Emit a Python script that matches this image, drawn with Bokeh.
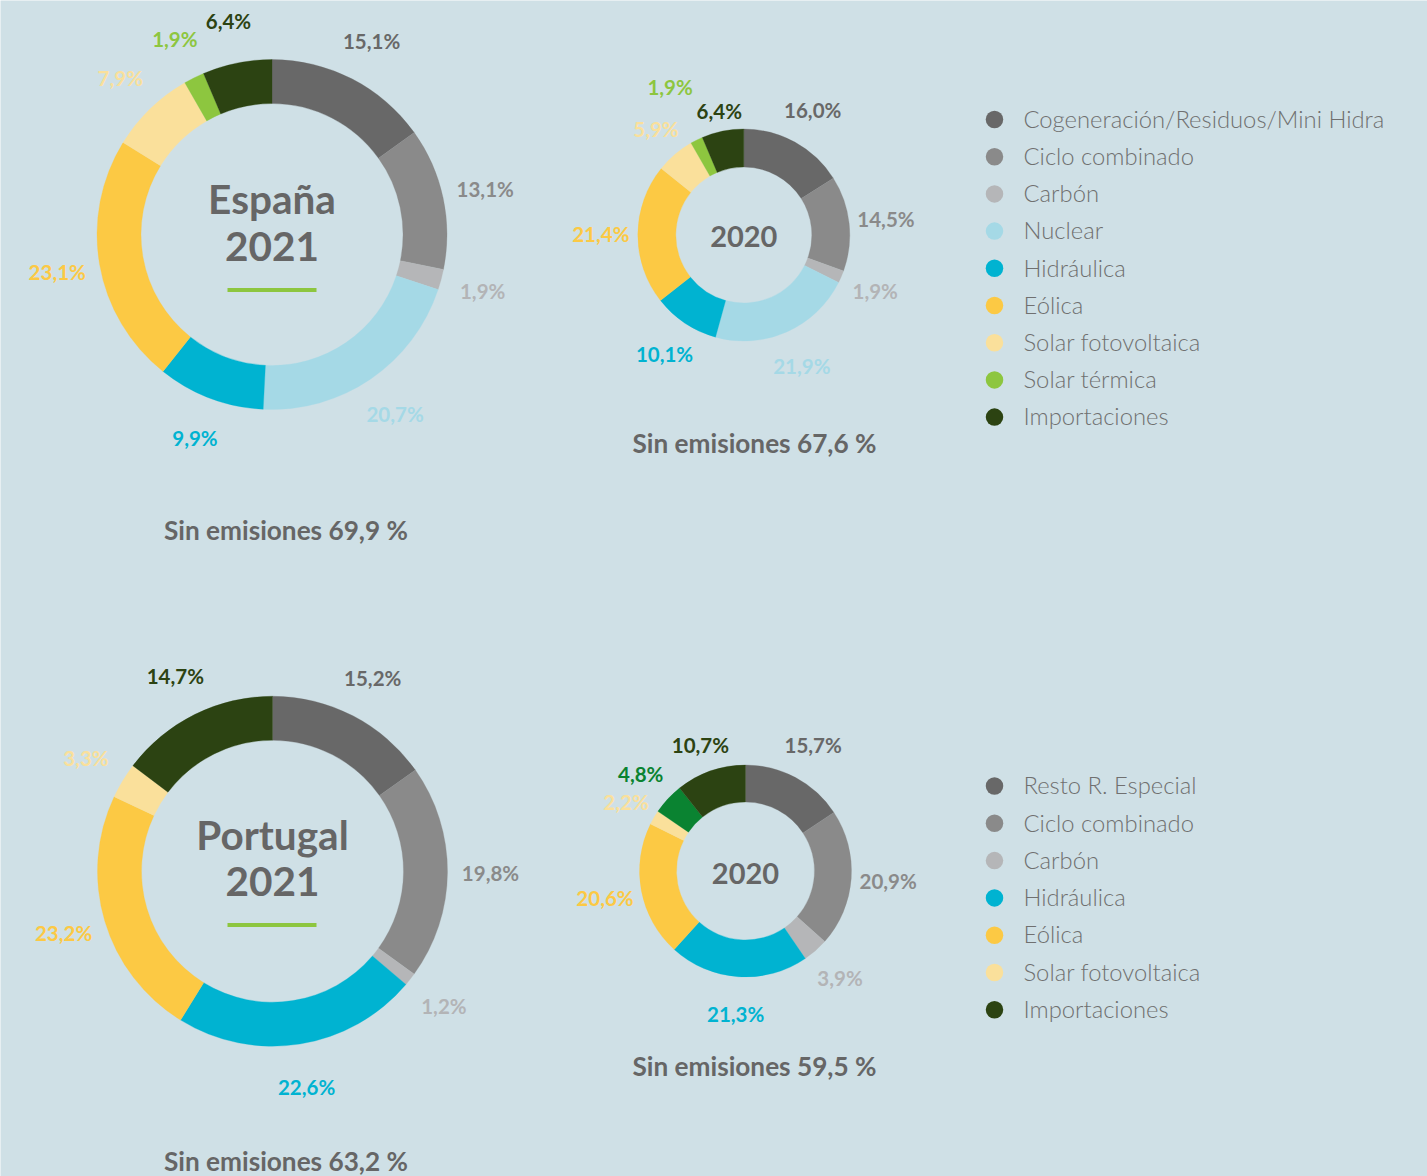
import math
from bokeh.plotting import figure
from bokeh.models import ColumnDataSource, Range1d
from bokeh.core.properties import value
from bokeh.embed import file_html
from bokeh.resources import INLINE

BG = "#cfe0e6"
FONT = "Lato"
LIGHT_FONT = "'Lato Light', Lato"

# ---------------- data ----------------
es_categories = ["Cogeneración/Residuos/Mini Hidra", "Ciclo combinado", "Carbón", "Nuclear",
                 "Hidráulica", "Eólica", "Solar fotovoltaica", "Solar térmica", "Importaciones"]
es_2021 = [15.1, 13.1, 1.9, 20.7, 9.9, 23.1, 7.9, 1.9, 6.4]
es_2020 = [16.0, 14.5, 1.9, 21.9, 10.1, 21.4, 5.9, 1.9, 6.4]

pt_categories = ["Resto R. Especial", "Ciclo combinado", "Carbón", "Hidráulica",
                 "Eólica", "Solar fotovoltaica", "Importaciones"]
pt_2021 = [15.2, 19.8, 1.2, 22.6, 23.2, 3.3, 14.7]
pt_2020_categories = ["Resto R. Especial", "Ciclo combinado", "Carbón", "Hidráulica",
                      "Eólica", "Solar fotovoltaica", "Otras", "Importaciones"]
pt_2020 = [15.7, 20.9, 3.9, 21.3, 20.6, 2.2, 4.8, 10.7]

sin_emisiones = {"es2021": "69,9", "es2020": "67,6", "pt2021": "63,2", "pt2020": "59,5"}

# ---------------- styles ----------------
COLORS = {
    "Cogeneración/Residuos/Mini Hidra": "#686868",
    "Resto R. Especial": "#686868",
    "Ciclo combinado": "#8a8a8a",
    "Carbón": "#b5b6b8",
    "Nuclear": "#a5d9e6",
    "Hidráulica": "#00b3d1",
    "Eólica": "#fcc944",
    "Solar fotovoltaica": "#fae09b",
    "Solar térmica": "#8dc63f",
    "Otras": "#0a8331",
    "Importaciones": "#2c4312",
}
LABEL_COLORS = dict(COLORS)
LABEL_COLORS["Carbón"] = "#b3b4b6"

W, H = 1427, 1176
p = figure(width=W, height=H, x_range=Range1d(0, W), y_range=Range1d(-H, 0),
           x_axis_type=None, y_axis_type=None, toolbar_location=None, output_backend="svg",
           min_border=0, background_fill_color=BG, border_fill_color=BG,
           outline_line_color=None)


def fmt(v):
    return f"{v:.1f}".replace(".", ",") + "%"


def donut(cats, vals, cx, cy, r_in, r_out, r_lab, nudges):
    total = sum(vals)
    starts, ends, cols = [], [], []
    lx, ly, lt, lc = [], [], [], []
    cum = 0.0
    for i, (c, v) in enumerate(zip(cats, vals)):
        c0 = cum / total
        cum += v
        c1 = cum / total
        starts.append(math.radians(90 - 360 * c1))
        ends.append(math.radians(90 - 360 * c0))
        cols.append(COLORS[c])
        th = math.radians(360 * (c0 + c1) / 2)
        dx, dy = nudges.get(i, (0, 0))
        lx.append(cx + r_lab * math.sin(th) + dx)
        ly.append(-(cy - r_lab * math.cos(th) + dy))
        lt.append(fmt(v))
        lc.append(LABEL_COLORS[c])
    src = ColumnDataSource(dict(x=[cx] * len(vals), y=[-cy] * len(vals), s=starts, e=ends, c=cols))
    p.annular_wedge(x="x", y="y", inner_radius=r_in, outer_radius=r_out, start_angle="s",
                    end_angle="e", fill_color="c", line_color="c",
                    line_width=0.3, source=src)
    lsrc = ColumnDataSource(dict(x=lx, y=ly, t=lt, c=lc))
    p.text(x="x", y="y", text="t", text_color="c", source=lsrc, text_font=value(FONT),
           text_font_size="20.5px", text_font_style="bold", text_align="center",
           text_baseline="middle")


# España 2021
donut(es_categories, es_2021, 271.5, 234, 131, 175, 218, {})
# España 2020
donut(es_categories, es_2020, 743.3, 234.5, 68, 106, 143,
      {6: (5, 3), 7: (-10, -20), 8: (4, 16)})
# Portugal 2021
donut(pt_categories, pt_2021, 272, 870.7, 131, 175, 218, {})
# Portugal 2020
donut(pt_2020_categories, pt_2020, 745, 870.5, 69, 106, 143,
      {5: (4, 3), 7: (2, 9)})

# centre titles
p.text(x=[271.5, 271.5, 272, 272], y=[-198, -246, -834, -881],
       text=["España", "2021", "Portugal", "2021"], text_color="#666666",
       text_font=value(FONT), text_font_size="40.5px", text_font_style="bold",
       text_align="center", text_baseline="middle")
p.segment(x0=[227, 227], y0=[-289.5, -924.5], x1=[316, 316], y1=[-289.5, -924.5],
          line_color="#8dc63f", line_width=4)
p.text(x=[743.3, 745], y=[-236, -872.5], text=["2020", "2020"], text_color="#666666",
       text_font=value(FONT), text_font_size="29px", text_font_style="bold",
       text_align="center", text_baseline="middle")

# "Sin emisiones"
p.text(x=[285.5, 754, 285.5, 754], y=[-529, -442, -1160, -1065],
       text=[f"Sin emisiones {sin_emisiones[k]} %" for k in ["es2021", "es2020", "pt2021", "pt2020"]],
       text_color="#666666", text_font=value(FONT), text_font_size="26.2px",
       text_font_style="bold", text_align="center", text_baseline="middle")


# legends
def legend(cats, y0, step):
    ys = [y0 + i * step for i in range(len(cats))]
    p.scatter(x=[994] * len(cats), y=[-y for y in ys], size=17.5,
              fill_color=[COLORS[c] for c in cats], line_color=None)
    p.text(x=[1023] * len(cats), y=[-(y - 0.8) for y in ys], text=cats, text_color="#707070",
           text_font=value(LIGHT_FONT), text_font_size="23.8px", text_align="left",
           text_baseline="middle")


legend(es_categories, 119, 37.2)
legend(pt_categories, 785.5, 37.3)

html = file_html(p, INLINE, title="Generación eléctrica")
html = html.replace("<body>", f'<body style="margin:0;padding:0;background-color:{BG};overflow:hidden;">', 1)
open("out.html", "w").write(html)
